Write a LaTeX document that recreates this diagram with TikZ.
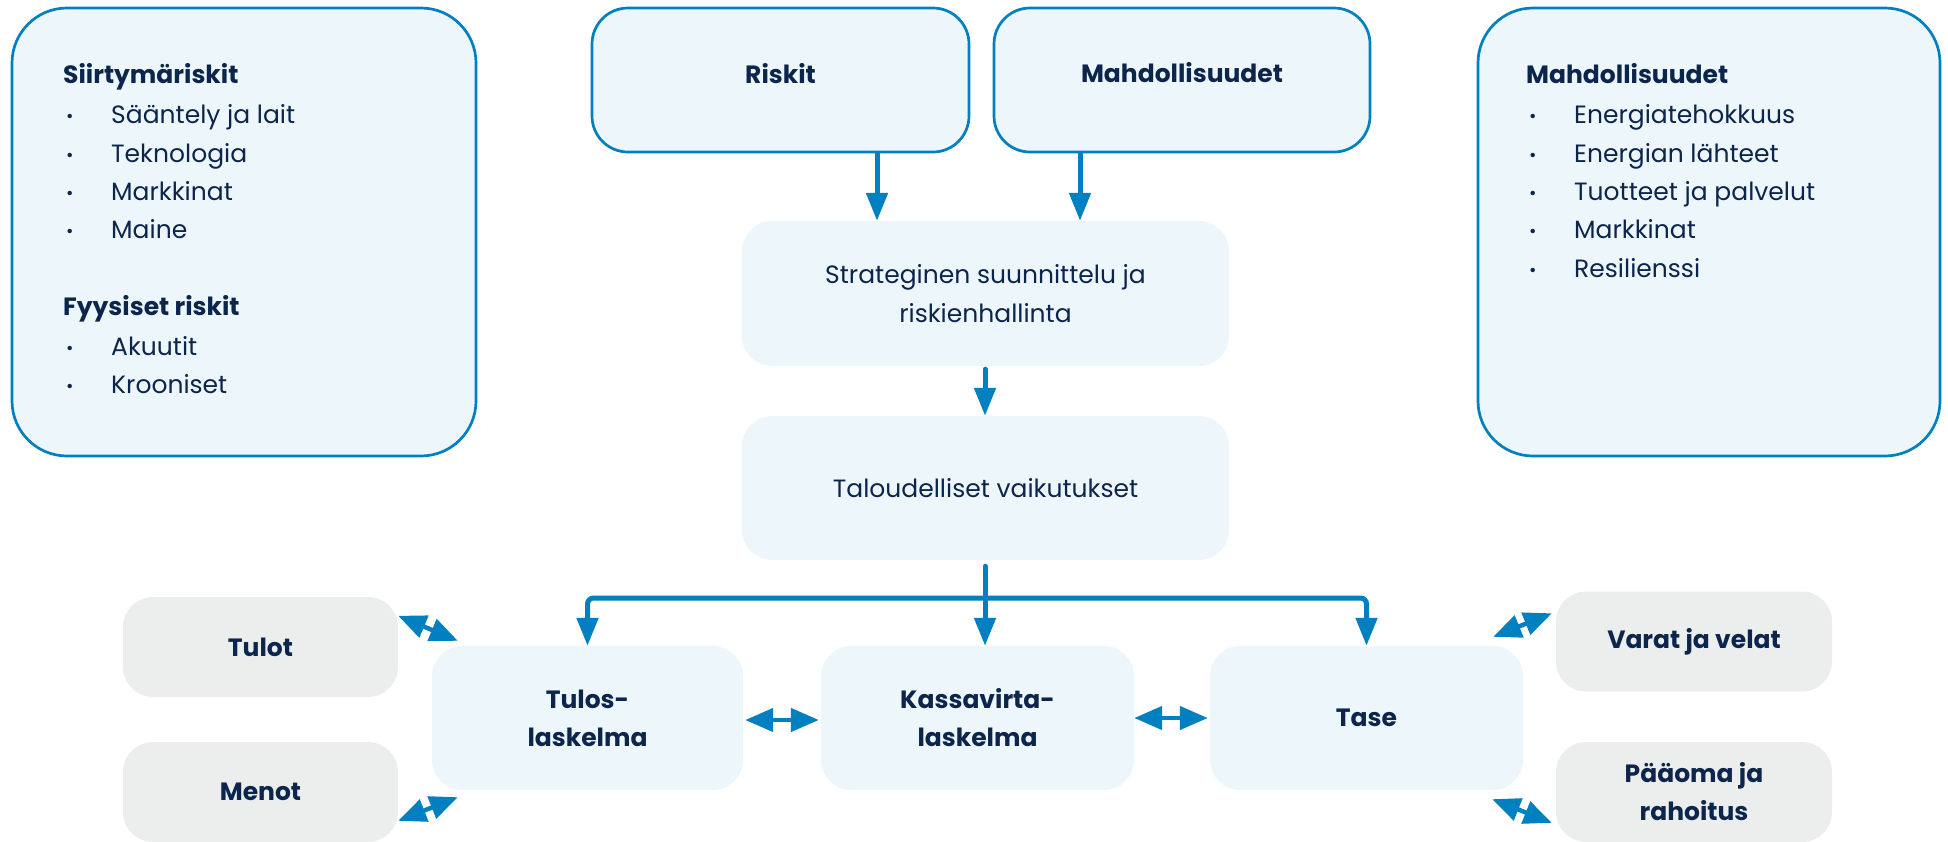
\documentclass[tikz,border=0pt]{standalone}
\usepackage{fontspec}
\setmainfont{Poppins}
\usetikzlibrary{arrows.meta,calc}
\definecolor{ablue}{RGB}{0,128,192}
\definecolor{lblue}{RGB}{237,246,250}
\definecolor{lgray}{RGB}{236,238,238}
\definecolor{navy}{RGB}{12,37,76}
\newcommand{\bl}{\makebox[45pt][l]{\fontsize{18}{18}\selectfont\raisebox{1pt}{•}}}
\tikzset{
  outlined/.style={draw=ablue, line width=2.7pt, fill=lblue, inner sep=0pt},
  softbox/.style={fill=lblue, inner sep=0pt, rounded corners=30pt, minimum width=313pt, minimum height=144pt,
     text=navy, align=center, font=\fontsize{25}{38}\selectfont\bfseries},
  graybox/.style={fill=lgray, inner sep=0pt, rounded corners=30pt, minimum width=276pt, minimum height=100pt,
     text=navy, align=center, font=\fontsize{25}{38}\selectfont\bfseries},
  item/.style={text=navy, inner sep=0pt, anchor=base west, font=\fontsize{25}{38}\selectfont},
  head/.style={text=navy, inner sep=0pt, font=\fontsize{25}{38}\selectfont\bfseries},
  arr/.style={draw=ablue, line width=5pt, -{Triangle[length=28pt,width=21pt]}},
  darr/.style={draw=ablue, line width=4.5pt, {Triangle[length=28pt,width=23pt]}-{Triangle[length=28pt,width=23pt]}},
}
\begin{document}
\begin{tikzpicture}[x=1pt,y=-1pt]
\useasboundingbox (0,0) rectangle (1948,841);
% top outlined boxes
\node[outlined, rounded corners=55pt, minimum width=464pt, minimum height=448pt] (left) at (244,232) {};
\node[outlined, rounded corners=55pt, minimum width=462pt, minimum height=448pt] (right) at (1709,232) {};
\node[outlined, rounded corners=36pt, minimum width=377pt, minimum height=144pt] (riskit) at (780.5,80) {};
\node[outlined, rounded corners=36pt, minimum width=376pt, minimum height=144pt] (mahd) at (1182,80) {};
\node[head, anchor=base] (riskitT) at (780.5,83) {Riskit};
\node[head, anchor=base] (mahdT) at (1182,82) {Mahdollisuudet};
% left list
\node[head, anchor=base west] (lh1) at (63,83) {Siirtymäriskit};
\node[item] (la1) at (66,123) {\bl Sääntely ja lait};
\node[item] (la2) at (66,162) {\bl Teknologia};
\node[item] (la3) at (66,200) {\bl Markkinat};
\node[item] (la4) at (66,238) {\bl Maine};
\node[head, anchor=base west] (lh2) at (63,315) {Fyysiset riskit};
\node[item] (lb1) at (66,355) {\bl Akuutit};
\node[item] (lb2) at (66,393) {\bl Krooniset};
% right list
\node[head, anchor=base west] (rh) at (1526,83) {Mahdollisuudet};
\node[item] (r1) at (1529,123) {\bl Energiatehokkuus};
\node[item] (r2) at (1529,162) {\bl Energian lähteet};
\node[item] (r3) at (1529,200) {\bl Tuotteet ja palvelut};
\node[item] (r4) at (1529,238) {\bl Markkinat};
\node[item] (r5) at (1529,277) {\bl Resilienssi};
% middle boxes
\node[softbox, minimum width=487pt, minimum height=145pt, font=\fontsize{25}{39}\selectfont] (strat) at (985.5,293.5) {Strateginen suunnittelu ja\\riskienhallinta};
\node[softbox, minimum width=487pt, minimum height=144pt, font=\fontsize{25}{39}\selectfont] (talo) at (985.5,488) {Taloudelliset vaikutukset};
\node[softbox, minimum width=311pt] (tulos) at (587.5,718) {Tulos-\\laskelma};
\node[softbox] (kassa) at (977.5,718) {Kassavirta-\\laskelma};
\node[softbox] (tase) at (1366.5,718) {Tase};
% gray boxes
\node[graybox, minimum width=275pt] (tulot) at (260.5,647) {Tulot};
\node[graybox, minimum width=275pt] (menot) at (260.5,792) {Menot};
\node[graybox] (varat) at (1694,641.5) {Varat ja velat};
\node[graybox] (paaoma) at (1694,792) {Pääoma ja\\rahoitus};
% arrows top
\coordinate (ca) at (877,0);
\coordinate (cb) at (1080,0);
\coordinate (cm) at (985,0);
\draw[arr] (riskit.south -| ca) -- (strat.north -| ca);
\draw[arr] (mahd.south -| cb) -- (strat.north -| cb);
\draw[arr, line cap=round] ($(strat.south -| cm)+(0,3)$) -- (talo.north -| cm);
\draw[arr, line cap=round] ($(talo.south -| cm)+(0,6)$) -- (kassa.north -| cm);
\coordinate (hb) at (985,598);
\draw[arr, rounded corners=6pt] (hb) -| (tulos.north);
\draw[arr, rounded corners=6pt] (hb) -| (tase.north);
% horizontal double arrows
\draw[darr, shorten <=2pt, shorten >=2pt] ($(tulos.east)+(0,2)$) -- ($(kassa.west)+(0,2)$);
\draw[darr] (kassa.east) -- ($(tase.west)+(-2,0)$);
% diagonal double arrows
\draw[darr] ($(tulot.north east)+(0,19)$) -- ($(tulos.north west)+(26,-5)$);
\draw[darr] ($(menot.north east)+(0,79)$) -- ($(tulos.south west)+(26,7)$);
\draw[darr] ($(varat.north west)+(-4,22)$) -- ($(tase.north east)+(-30,-9)$);
\draw[darr] ($(paaoma.north west)+(-4,81)$) -- ($(tase.south east)+(-31,9)$);
\end{tikzpicture}
\end{document}
